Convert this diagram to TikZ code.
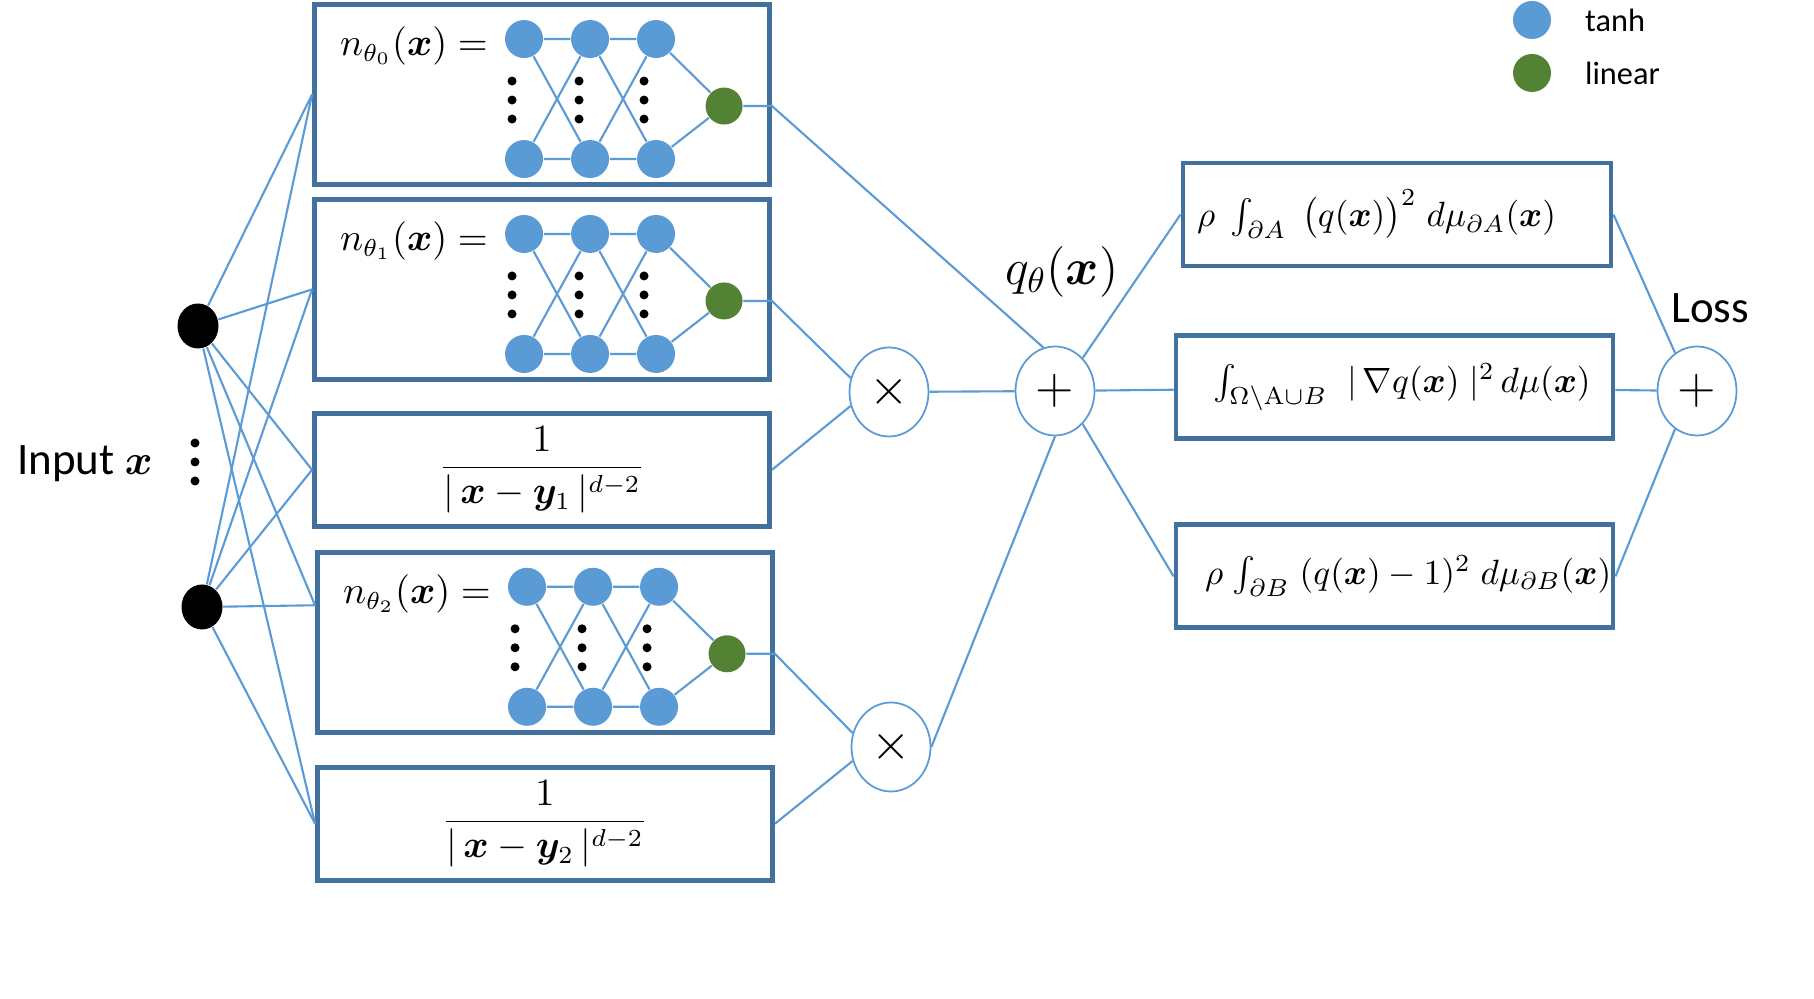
\documentclass[tikz,border=0pt]{standalone}
\usepackage{amsmath,amssymb,bm}
\usepackage[no-math]{fontspec}
\newfontfamily\calib{Carlito}
\usetikzlibrary{positioning,calc,shapes.geometric}
\definecolor{navyline}{HTML}{41719C}
\definecolor{sky}{HTML}{5B9BD5}
\definecolor{leaf}{HTML}{548235}
\newcommand{\labfont}{\calib\fontsize{12.8pt}{15pt}\selectfont}
\newcommand{\mfont}{\fontsize{10.5pt}{13pt}\selectfont}
\tikzset{
  box/.style={draw=navyline, line width=1.4pt, minimum width=45.5mm, inner sep=0pt, fill=white},
  netbox/.style={box, minimum height=18mm},
  fracbox/.style={box, minimum height=11.3mm, font=\mfont},
  lossbox/.style={box, minimum height=10.3mm, align=left, font=\fontsize{9.8pt}{12pt}\selectfont},
  tnode/.style={circle, fill=sky, minimum size=3.8mm, inner sep=0pt},
  lnode/.style={circle, fill=leaf, minimum size=3.7mm, inner sep=0pt},
  opnode/.style={ellipse, draw=sky, line width=0.5pt, minimum width=7.9mm, minimum height=8.9mm,
    inner sep=0pt, font=\fontsize{14pt}{16pt}\selectfont},
  indot/.style={ellipse, fill=black, minimum width=4.1mm, minimum height=4.5mm, inner sep=0pt},
  wire/.style={draw=sky, line width=0.6pt},
  mlab/.style={font=\mfont},
  lab/.style={font=\labfont},
  leg/.style={font=\calib\fontsize{9.2pt}{11pt}\selectfont},
}
\newcommand{\threedots}[1]{\fill (#1) ++(0,-19) circle (0.45mm) ++(0,19) circle (0.45mm) ++(0,19) circle (0.45mm);}
% small net drawn inside a box: #1 box name, #2 theta index
\newcommand{\smallnet}[2]{%
  \node[mlab] (#1lab) at ($(#1.north west)+(102,44)$) {$n_{\theta_{#2}}(\bm{x}) =$};
  \node[tnode] (#1a1) at ($(#1.north west)+(212,37)$) {};
  \node[tnode] (#1a2) at ($(#1.north west)+(278,37)$) {};
  \node[tnode] (#1a3) at ($(#1.north west)+(344,37)$) {};
  \node[tnode] (#1b1) at ($(#1.north west)+(212,157)$) {};
  \node[tnode] (#1b2) at ($(#1.north west)+(278,157)$) {};
  \node[tnode] (#1b3) at ($(#1.north west)+(344,157)$) {};
  \node[lnode] (#1g) at ($(#1.north west)+(412,104)$) {};
  \threedots{$(#1.north west)+(200,98)$}
  \threedots{$(#1.north west)+(267,98)$}
  \threedots{$(#1.north west)+(332,98)$}
  \draw[wire] (#1a1) -- (#1a2) -- (#1a3) (#1b1) -- (#1b2) -- (#1b3)
    (#1a1) -- (#1b2) (#1b1) -- (#1a2) (#1a2) -- (#1b3) (#1b2) -- (#1a3)
    (#1a3) -- (#1g) (#1b3) -- (#1g);
}

\begin{document}
\begin{tikzpicture}[x=0.1mm, y=-0.1mm]
    \useasboundingbox (0,0) rectangle (1814,999);
    \node[netbox] (n0) at (542,94.5) {};
    \node[netbox, below=1mm of n0] (n1) {};
    \node[fracbox, below=2.9mm of n1] (f1) {$\dfrac{1}{|\,\bm{x}-\bm{y}_1\,|^{d-2}}$};
    \node[netbox, below=2.1mm of f1, xshift=0.3mm] (n2) {};
    \node[fracbox, below=3mm of n2] (f2) {$\dfrac{1}{|\,\bm{x}-\bm{y}_2\,|^{d-2}}$};
    \smallnet{n0}{0}
    \smallnet{n1}{1}
    \smallnet{n2}{2}
    \node[indot] (in1) at (198,326) {};
    \node[indot] (in2) at (202,607) {};
    \threedots{195,462}
    \node[lab, anchor=east] (inp) at (165,464) {Input $\bm{x}$};
    \coordinate (n2in) at ($(n2.north west)!.3!(n2.south west)$);
    \draw[wire] (in1) -- (n0.west) (in1) -- (n1.west) (in1) -- (f1.west) (in1) -- (n2in) (in1) -- (f2.west);
    \draw[wire] (in2) -- (n0.west) (in2) -- (n1.west) (in2) -- (f1.west) (in2) -- (n2in) (in2) -- (f2.west);
    \node[opnode] (t1) at (889,392) {$\times$};
    \node[opnode] (t2) at (891,747) {$\times$};
    \node[opnode] (sum) at (1055,391) {$+$};
    \node[font=\fontsize{14pt}{16pt}\selectfont] (qlab) at (1062,272) {$q_{\theta}(\bm{x})$};
    \node[lossbox, minimum width=42.8mm, text width=40mm] (la) at (1397,214.5)
      {\mbox{$\rho\;\,{\textstyle\int_{\partial A}}\;\,\bigl(q(\bm{x})\bigr)^{2}\;d\mu_{\partial A}(\bm{x})$}};
    \node[lossbox, minimum width=43.7mm, text width=36.3mm, below=6.5mm of la, xshift=-0.25mm] (lg)
      {\mbox{${\textstyle\int_{\Omega\backslash\mathrm{A}\cup B}}\;\;|\,\nabla q(\bm{x})\;|^{2}\,d\mu(\bm{x})$}};
    \node[lossbox, minimum width=43.7mm, text width=37.9mm, below=8.1mm of lg] (lb)
      {\mbox{$\rho\;{\textstyle\int_{\partial B}}\;(q(\bm{x})-1)^{2}\;d\mu_{\partial B}(\bm{x})$}};
    \node[opnode] (loss) at (1697,391) {$+$};
    \node[lab] (losslab) at (1710,308) {Loss};
    \draw[wire] (n0g) -- (n0g -| n0.east) -- (sum.105);
    \draw[wire] (n1g) -- (n1g -| n1.east) -- (t1.160);
    \draw[wire] (f1.east) -- (t1.200);
    \draw[wire] (n2g) -- (n2g -| n2.east) -- (t2.160);
    \draw[wire] (f2.east) -- (t2.200);
    \draw[wire] (t1) -- (sum);
    \draw[wire] (t2.east) -- (sum.south);
    \draw[wire] (sum.50) -- (la.west);
    \draw[wire] (sum) -- (lg);
    \draw[wire] (sum.-50) -- (lb.west);
    \draw[wire] (la.east) -- (loss.120);
    \draw[wire] (lg) -- (loss);
    \draw[wire] (lb.east) -- (loss.240);
    \node[tnode] (key1) at (1532,20) {};
    \node[leg, right=2.1mm of key1] (key1lab) {tanh};
    \node[lnode, minimum size=3.8mm] (key2) at (1532,73) {};
    \node[leg, right=2.1mm of key2] (key2lab) {linear};
\end{tikzpicture}
\end{document}
